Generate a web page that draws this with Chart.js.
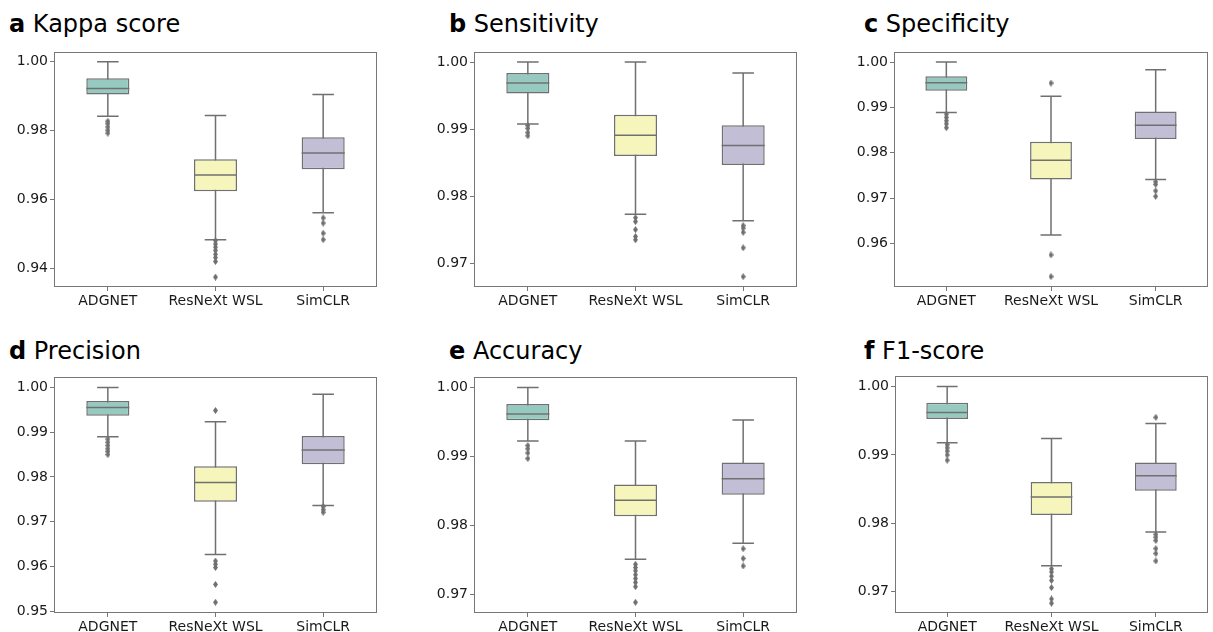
<!DOCTYPE html>
<html>
<head>
<meta charset="utf-8">
<script src="https://cdn.jsdelivr.net/npm/chart.js@4.4.1/dist/chart.umd.min.js"></script>
<style>
  body { margin:0; background:#fff; width:1213px; height:632px; position:relative; overflow:hidden; font-family:"DejaVu Sans", sans-serif; }
  .panel { position:absolute; }
  .ttl { position:absolute; font-size:24px; line-height:24px; color:#000; white-space:nowrap; }
</style>
</head>
<body>
<script>
/* ---- data ---- */
const CATEGORIES = ['ADGNET', 'ResNeXt WSL', 'SimCLR'];

// each row: [lower whisker, q1, median, q3, upper whisker]
const kappaStats = [[0.98416, 0.99049, 0.99219, 0.99519, 1.000], [0.94835, 0.96238, 0.96710, 0.97171, 0.98436], [0.95615, 0.96880, 0.97352, 0.97805, 0.99049]];
const kappaOutliers = [[0.98274, 0.98201, 0.98105, 0.98011, 0.97926], [0.94806, 0.94710, 0.94617, 0.94523, 0.94410, 0.94313, 0.94200, 0.93748], [0.95465, 0.95315, 0.95021, 0.94835]];
const kappaTicks = [0.94, 0.96, 0.98, 1.00];

const sensStats = [[0.99078, 0.99532, 0.99687, 0.99836, 1.000], [0.97730, 0.98600, 0.98909, 0.99213, 1.000], [0.97633, 0.98464, 0.98754, 0.99058, 0.99836]];
const sensOutliers = [[0.99054, 0.99010, 0.98948, 0.98899], [0.97677, 0.97619, 0.97499, 0.97397, 0.97348], [0.97561, 0.97522, 0.97459, 0.97228, 0.96797]];
const sensTicks = [0.97, 0.98, 0.99, 1.00];

const specStats = [[0.98886, 0.99366, 0.99544, 0.99687, 1.000], [0.96186, 0.97407, 0.97836, 0.98243, 0.99244], [0.97407, 0.98301, 0.98607, 0.98907, 0.99829]];
const specOutliers = [[0.98852, 0.98779, 0.98708, 0.98637, 0.98551], [0.99537, 0.95745, 0.95265], [0.97358, 0.97300, 0.97159, 0.97037]];
const specTicks = [0.96, 0.97, 0.98, 0.99, 1.00];

const precStats = [[0.98899, 0.99370, 0.99551, 0.99696, 1.000], [0.96268, 0.97450, 0.97877, 0.98239, 0.99232], [0.97362, 0.98283, 0.98601, 0.98913, 0.99848]];
const precOutliers = [[0.98848, 0.98775, 0.98703, 0.98630, 0.98572, 0.98500], [0.99486, 0.96123, 0.96051, 0.95978, 0.95601, 0.95203], [0.97340, 0.97268, 0.97210]];
const precTicks = [0.95, 0.96, 0.97, 0.98, 0.99, 1.00];

const accStats = [[0.99223, 0.99524, 0.99614, 0.99760, 1.000], [0.97508, 0.98130, 0.98361, 0.98592, 0.99223], [0.97739, 0.98441, 0.98676, 0.98912, 0.99529]];
const accOutliers = [[0.99157, 0.99110, 0.99049, 0.98968], [0.97433, 0.97386, 0.97339, 0.97282, 0.97226, 0.97170, 0.97108, 0.96882], [0.97659, 0.97518, 0.97409]];
const accTicks = [0.97, 0.98, 0.99, 1.00];

const f1Stats = [[0.99179, 0.99525, 0.99620, 0.99763, 1.000], [0.97380, 0.98121, 0.98386, 0.98605, 0.99241], [0.97874, 0.98477, 0.98695, 0.98889, 0.99459]];
const f1Outliers = [[0.99150, 0.99103, 0.99056, 0.98999, 0.98923], [0.97337, 0.97290, 0.97228, 0.97167, 0.97062, 0.96896, 0.96834], [0.99549, 0.97840, 0.97798, 0.97750, 0.97632, 0.97561, 0.97451]];
const f1Ticks = [0.97, 0.98, 0.99, 1.00];

/* ---- look ---- */
const BOX_COLORS = ['#96cac1', '#f6f6bc', '#c1bed6'];
const LINE = '#707070';
const FRAME = '#777777';
const Y_AXIS_W = 50, X_AXIS_H = 30, PAD_T = 4, PAD_R = 2;

// panel: letter, name, stats, outliers, ticks, y range, frame box (l,t,r,b), title pos
const PANELS = [
  { letter: 'a', name: 'Kappa score', stats: kappaStats, out: kappaOutliers, ticks: kappaTicks, yMin: 0.9346, yMax: 1.0027, l: 54, t: 46, r: 380, b: 287, tx: 9, ty: 12 },
  { letter: 'b', name: 'Sensitivity', stats: sensStats, out: sensOutliers, ticks: sensTicks, yMin: 0.96643, yMax: 1.00145, l: 474, t: 46, r: 800, b: 287, tx: 449, ty: 12 },
  { letter: 'c', name: 'Specificity', stats: specStats, out: specOutliers, ticks: specTicks, yMin: 0.95036, yMax: 1.00214, l: 894, t: 46, r: 1211, b: 287, tx: 864, ty: 12 },
  { letter: 'd', name: 'Precision', stats: precStats, out: precOutliers, ticks: precTicks, yMin: 0.94963, yMax: 1.00224, l: 54, t: 371, r: 380, b: 613, tx: 9, ty: 339 },
  { letter: 'e', name: 'Accuracy', stats: accStats, out: accOutliers, ticks: accTicks, yMin: 0.96726, yMax: 1.00146, l: 474, t: 371, r: 800, b: 613, tx: 449, ty: 339 },
  { letter: 'f', name: 'F1-score', stats: f1Stats, out: f1Outliers, ticks: f1Ticks, yMin: 0.96691, yMax: 1.00147, l: 895, t: 370, r: 1211, b: 613, tx: 864, ty: 339 },
];

/* thin diamond marker, like matplotlib's 'd' */
const diamond = document.createElement('canvas');
diamond.width = 5; diamond.height = 7;
(() => {
  const c = diamond.getContext('2d');
  c.fillStyle = LINE;
  c.beginPath();
  c.moveTo(2.5, 0); c.lineTo(5, 3.5); c.lineTo(2.5, 7); c.lineTo(0, 3.5);
  c.closePath(); c.fill();
})();

/* whiskers + caps under the boxes, medians on top */
const boxParts = {
  id: 'boxParts',
  beforeDatasetsDraw(chart, args, opts) {
    const ctx = chart.ctx, y = chart.scales.y;
    const bars = chart.getDatasetMeta(0).data;
    ctx.save();
    ctx.strokeStyle = LINE; ctx.lineWidth = 1.5;
    opts.stats.forEach((s, i) => {
      const { x, width } = bars[i].getProps(['x', 'width'], true);
      const half = width / 4;
      const yLo = y.getPixelForValue(s[0]), yHi = y.getPixelForValue(s[4]);
      ctx.beginPath();
      ctx.moveTo(x, yLo); ctx.lineTo(x, yHi);
      ctx.moveTo(x - half, yLo); ctx.lineTo(x + half, yLo);
      ctx.moveTo(x - half, yHi); ctx.lineTo(x + half, yHi);
      ctx.stroke();
    });
    ctx.restore();
  },
  afterDatasetsDraw(chart, args, opts) {
    const ctx = chart.ctx, y = chart.scales.y;
    const bars = chart.getDatasetMeta(0).data;
    ctx.save();
    ctx.strokeStyle = LINE; ctx.lineWidth = 1.5;
    opts.stats.forEach((s, i) => {
      const { x, width } = bars[i].getProps(['x', 'width'], true);
      const ym = y.getPixelForValue(s[2]);
      ctx.beginPath();
      ctx.moveTo(x - width / 2, ym); ctx.lineTo(x + width / 2, ym);
      ctx.stroke();
    });
    ctx.restore();
  },
  afterDraw(chart) {
    const { ctx, chartArea: a } = chart;
    ctx.save();
    ctx.strokeStyle = FRAME; ctx.lineWidth = 1;
    ctx.strokeRect(Math.round(a.left) + 0.5, Math.round(a.top) + 0.5, Math.round(a.right - a.left) - 1, Math.round(a.bottom - a.top) - 1);
    ctx.restore();
  }
};

function buildPanel(p) {
  const w = p.r - p.l + Y_AXIS_W + PAD_R;
  const h = p.b - p.t + PAD_T + X_AXIS_H;
  const wrap = document.createElement('div');
  wrap.className = 'panel';
  wrap.style.left = (p.l - Y_AXIS_W) + 'px';
  wrap.style.top = (p.t - PAD_T) + 'px';
  const canvas = document.createElement('canvas');
  canvas.width = w; canvas.height = h;
  wrap.appendChild(canvas);
  document.body.appendChild(wrap);

  const title = document.createElement('div');
  title.className = 'ttl';
  title.style.left = p.tx + 'px';
  title.style.top = p.ty + 'px';
  title.innerHTML = `<b>${p.letter}</b> ${p.name}`;
  document.body.appendChild(title);

  const tickFont = { family: 'DejaVu Sans', size: 14 };
  new Chart(canvas, {
    type: 'bar',
    data: {
      labels: CATEGORIES,
      datasets: [
        {
          data: p.stats.map(s => [s[1], s[3]]),
          backgroundColor: BOX_COLORS,
          borderColor: LINE,
          borderWidth: 1.5,
          borderSkipped: false,
          categoryPercentage: 1,
          barPercentage: 0.4,
          order: 2,
        },
        {
          type: 'scatter',
          data: p.out.flatMap((vals, i) => vals.map(v => ({ x: CATEGORIES[i], y: v }))),
          pointStyle: diamond,
          backgroundColor: LINE,
          borderColor: LINE,
          order: 1,
        },
      ],
    },
    options: {
      responsive: false, animation: false, events: [],
      layout: { padding: { top: PAD_T, right: PAD_R, left: 0, bottom: 0 } },
      plugins: { legend: { display: false }, tooltip: { enabled: false }, boxParts: { stats: p.stats } },
      scales: {
        x: {
          type: 'category', offset: true,
          grid: { display: true, offset: false, drawOnChartArea: false, drawTicks: true, tickLength: 4, color: FRAME },
          border: { display: false },
          ticks: { font: tickFont, color: '#1a1a1a', padding: 2, maxRotation: 0 },
          afterFit: s => { s.height = X_AXIS_H; },
        },
        y: {
          min: p.yMin, max: p.yMax,
          grid: { display: true, drawOnChartArea: false, drawTicks: true, tickLength: 4, color: FRAME },
          border: { display: false },
          ticks: { font: tickFont, color: '#1a1a1a', padding: 2, callback: v => Number(v).toFixed(2) },
          afterBuildTicks: s => { s.ticks = p.ticks.map(v => ({ value: v })); },
          afterFit: s => { s.width = Y_AXIS_W; },
        },
      },
    },
    plugins: [boxParts],
  });
}

PANELS.forEach(buildPanel);
</script>
</body>
</html>
